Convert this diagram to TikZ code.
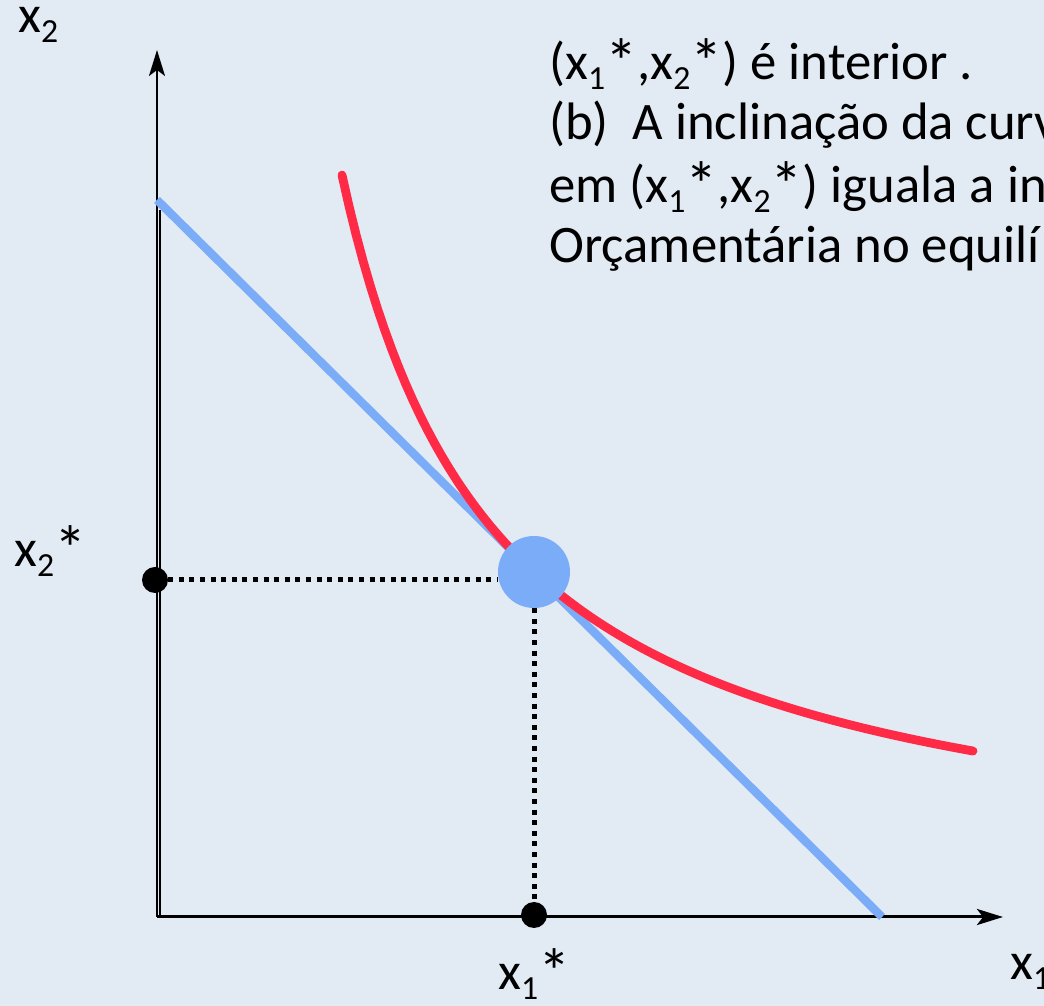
\documentclass[tikz,border=0pt]{standalone}
\usepackage{fontspec}
\setmainfont{Carlito}
\usetikzlibrary{positioning, calc, arrows.meta}
\definecolor{Fundo}{HTML}{E2EAF4}
\definecolor{Orcamento}{HTML}{7BACF8}
\definecolor{Indif}{HTML}{FF2A46}
\newcommand{\ind}[1]{\raisebox{-7pt}{\fontsize{24}{24}\selectfont #1}}
\newcommand{\est}{\raisebox{-3pt}{\fontsize{46}{46}\selectfont *}}
\tikzset{
    eixo/.style={-{Stealth[length=0.65cm, width=0.4cm, inset=0.15cm]}, color=black},
    rotulo/.style={anchor=base west, inner sep=0pt, font=\fontsize{37.5}{43.4}\selectfont},
    pontilhado/.style={line width=0.125cm, dash pattern=on 0.125cm off 0.14cm},
    ponto/.style={circle, fill=black, minimum size=0.65cm, inner sep=0pt},
    equilibrio/.style={circle, fill=Orcamento, minimum size=1.8cm, inner sep=0pt},
}

\begin{document}
\begin{tikzpicture}[x=0.25cm, y=0.25cm]
    % Fundo e recorte
    \fill[Fundo] (-15.7,-8.9) rectangle (88.7,91.7);
    \clip (-15.7,-8.9) rectangle (88.7,91.7);

    % Eixos
    \coordinate (O) at (0,0);
    \coordinate (topo) at (0,86.7);
    \coordinate (fim) at (84.6,0);
    \draw[eixo, line width=0.05cm] (O) -- (topo);
    \draw[eixo, line width=0.075cm] (O) -- (fim);
    \draw[line width=0.05cm] (0.3,70.7) -- (0.3,0);

    % Reta orcamentaria e curva de indiferenca
    \draw[Orcamento, line width=0.21cm] (0,71.7) -- (72.5,0);
    \draw[Indif, line width=0.22cm, line cap=round] plot[domain=18.5:81.6, samples=90] (\x, {2.45+1112.04/(\x-3)});

    % Equilibrio
    \node[equilibrio] (eq) at (37.7,34.5) {};
    \node[ponto] (pX2) at (-0.2,33.7) {};
    \node[ponto] (pX1) at (37.7,0.2) {};
    \draw[pontilhado] (pX2.east) -- (pX2 -| eq.west);
    \draw[pontilhado] (eq.south) -- (pX1.north);

    % Rotulos
    \node[rotulo, text height=0.5em] (lx2) at (-13.9,88.4) {x\ind{2}};
    \node[rotulo] (lx2e) at (-14.3,35.0) {x\ind{2}\est};
    \node[rotulo] (lx1e) at (34.1,-7.3) {x\ind{1}\est};
    \node[rotulo] (lx1) at (85.3,-6.3) {x\ind{1}};

    % Texto
    \node[rotulo] (t1) at (39.2,83.7) {(x\ind{1}\est,x\ind{2}\est) é interior .};
    \node[rotulo] (t2) at (39.2,77.7) {(b)~ A inclinação da curv};
    \node[rotulo] (t3) at (39.2,71.4) {em (x\ind{1}\est,x\ind{2}\est) iguala a in};
    \node[rotulo] (t4) at (39.2,65.4) {Orçamentária no equilí};
\end{tikzpicture}
\end{document}
